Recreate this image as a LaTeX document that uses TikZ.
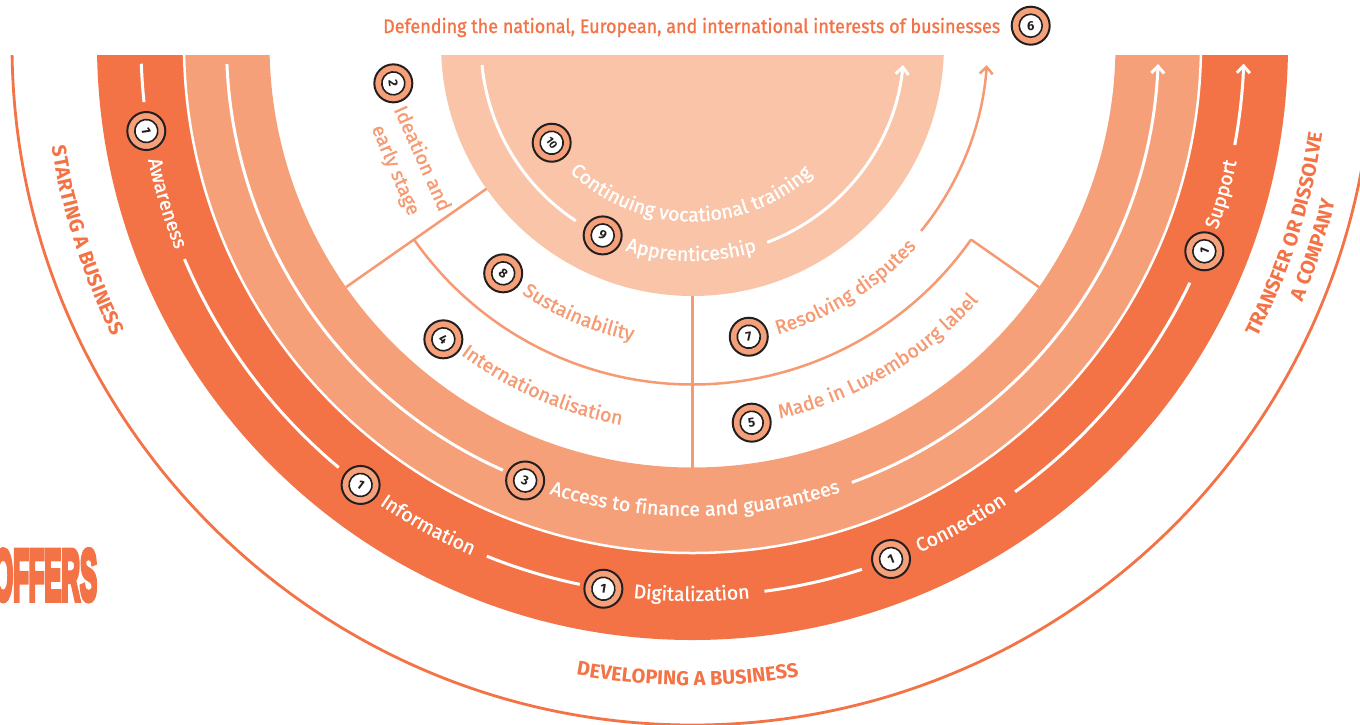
\documentclass[tikz,border=0pt]{standalone}
\usepackage{fontspec}
\usepackage{graphicx}
\setmainfont{Fira Sans}
\newfontfamily\labfont[FakeBold=1.2]{Fira Sans}
\newfontfamily\offfont[FakeBold=8]{Liberation Sans}
\usetikzlibrary{decorations.text,arrows.meta,calc}
\definecolor{dk}{HTML}{F37346}
\definecolor{md}{HTML}{F6A07A}
\definecolor{lt}{HTML}{F9C4A7}
\definecolor{sal}{HTML}{F59A72}
\definecolor{ink}{HTML}{231F20}
\newcommand\lab{\labfont\fontsize{19.5}{20}\selectfont}
\newcommand\capf{\fontsize{20}{20}\selectfont\bfseries}
% color, radius, mid angle, half span, text
\newcommand\arctext[5]{%
  \path[decorate,decoration={text along path,text color=#1,text align=center,text={#5}}]
    ([shift={(#3-#4:#2)}]C) arc[start angle=#3-#4,end angle=#3+#4,radius=#2];}
% name, angle, radius, number, rotation
\newcommand\mybadge[5]{%
  \node[bdg] (#1) at ([shift={(#2:#3)}]C) {};
  \node[bdgin,rotate=#5] (#1n) at (#1.center) {#4};}
% style, radius, start, end
\newcommand\arcline[4]{%
  \draw[#1] ([shift={(#3:#2)}]C) arc[start angle=#3,end angle=#4,radius=#2];}
\begin{document}
\begin{tikzpicture}[x=1pt,y=1pt,
  wline/.style={white,line width=3pt},
  sline/.style={sal,line width=2.5pt},
  arr/.style={-{Straight Barb[length=7pt,width=13pt]}},
  bdg/.style={circle,draw=ink,line width=2pt,fill=md,minimum size=38pt,inner sep=0pt},
  bdgin/.style={circle,draw=ink,line width=1.6pt,fill=white,minimum size=23pt,inner sep=0pt,text=ink,font=\fontsize{13}{13}\selectfont\bfseries}]
\useasboundingbox (0,0) rectangle (1360,-724);
\coordinate (C) at (692.5,-44.5);
\begin{scope}
  \clip (0,-55) rectangle (1360,-724);
  \draw[dk,line width=2.8pt] (C) circle[radius=680.5];
  \fill[dk,even odd rule] (C) circle[radius=595.5] (C) circle[radius=508.5];
  \fill[md,even odd rule] (C) circle[radius=508.5] (C) circle[radius=423];
  \draw[white,line width=2.5pt] (C) circle[radius=508.5];
  \fill[lt] (C) circle[radius=251.5];
  % dividers in the white ring
  \draw[sline] ([shift={(215:251.5)}]C) -- ([shift={(215:423)}]C);
  \draw[sline] ([shift={(270:251.5)}]C) -- ([shift={(270:423)}]C);
  \draw[sline] ([shift={(325:340)}]C) -- ([shift={(325:423)}]C);
  \arcline{sline}{340}{215}{325}
  \arcline{sline,arr}{295}{320.8}{356}
  % dark band line
  \arcline{wline}{551.5}{182}{186}
  \arcline{wline}{551.5}{202.9}{230.1}
  \arcline{wline}{551.5}{248.1}{258.2}
  \arcline{wline}{551.5}{277.5}{287.9}
  \arcline{wline}{551.5}{305.8}{334.4}
  \arcline{wline,arr}{551.5}{349.5}{358}
  % medium band line
  \arcline{wline}{466}{182.4}{246}
  \arcline{wline,arr}{466}{290}{357.6}
  % peach line
  \arcline{wline}{211.5}{185.6}{236.5}
  \arcline{wline,arr}{211.5}{290.7}{354.4}
\end{scope}
% labels in the dark band
\arctext{white}{556.5}{196.8}{12}{|\lab|Awareness}
\arctext{white}{556.5}{241.2}{12}{|\lab|Information}
\arctext{white}{556.5}{269.9}{12}{|\lab|Digitalization}
\arctext{white}{556.5}{299.25}{12}{|\lab|Connection}
\arctext{white}{556.5}{344.2}{12}{|\lab|Support}
% medium band
\arctext{white}{471.5}{270.3}{30}{|\lab|Access to finance and guarantees}
% peach
\arctext{white}{216.5}{269.65}{40}{|\lab|Apprenticeship}
\arctext{white}{177}{269.4}{70}{|\lab|Continuing vocational training}
% white ring
\arctext{sal}{302}{247.05}{25}{|\lab|Sustainability}
\arctext{sal}{387}{246.3}{25}{|\lab|Internationalisation}
\arctext{sal}{302}{302.15}{30}{|\lab|Resolving disputes}
\arctext{sal}{384}{300.65}{30}{|\lab|Made in Luxembourg label}
\node[text=sal,font=\lab,rotate=-65.9,inner sep=0pt,anchor=mid] (ide1) at (419,-160) {Ideation and};
\node[text=sal,font=\lab,rotate=-67.1,inner sep=0pt,anchor=mid] (ide2) at (392.5,-171.5) {early stage};
% outer phase labels
\arctext{dk}{649}{197.9}{15}{|\capf|STARTING A BUSINESS}
\arctext{dk}{641}{269.55}{15}{|\capf|DEVELOPING A BUSINESS}
\arctext{dk}{636}{342.3}{15}{|\capf|TRANSFER OR DISSOLVE}
\arctext{dk}{662}{341.7}{15}{|\capf|A COMPANY}
% badges
\mybadge{d1}{189}{553}{1}{279}
\mybadge{d2}{233}{551.5}{1}{323}
\mybadge{d3}{260.7}{551.5}{1}{350.7}
\mybadge{d4}{291.1}{551.5}{1}{21.1}
\mybadge{d5}{338}{552}{1}{68}
\mybadge{m3}{249}{467}{3}{339}
\mybadge{p9}{244.8}{211}{9}{334.8}
\node[bdg] (p10) at ([shift={(214.9:171.7)}]C) {};
\node[bdgin,rotate=304.9,font=\fontsize{11}{11}\selectfont\bfseries] (p10n) at (p10.center) {10};
\mybadge{w2}{187.4}{301.7}{2}{277.4}
\mybadge{w8}{230.4}{297}{8}{320.4}
\mybadge{w4}{229.8}{386}{4}{319.8}
\mybadge{w7}{280.9}{297.6}{7}{10.9}
\mybadge{w5}{278.9}{382.8}{5}{8.9}
\node[bdg] (b6) at (1030.7,-25.7) {};
\node[bdgin] (b6n) at (b6.center) {6};
% header
\node[anchor=base west,inner sep=0pt,text=dk] (head) at (383,-33)
  {\resizebox{617pt}{\height}{\lab Defending the national, European, and international interests of businesses}};
% OFFERS
\node[anchor=base west,inner sep=0pt,text=dk] (off) at (-7,-600)
  {\scalebox{0.356}[1]{\offfont\fontsize{72}{72}\selectfont\bfseries OFFERS}};
\end{tikzpicture}
\end{document}
